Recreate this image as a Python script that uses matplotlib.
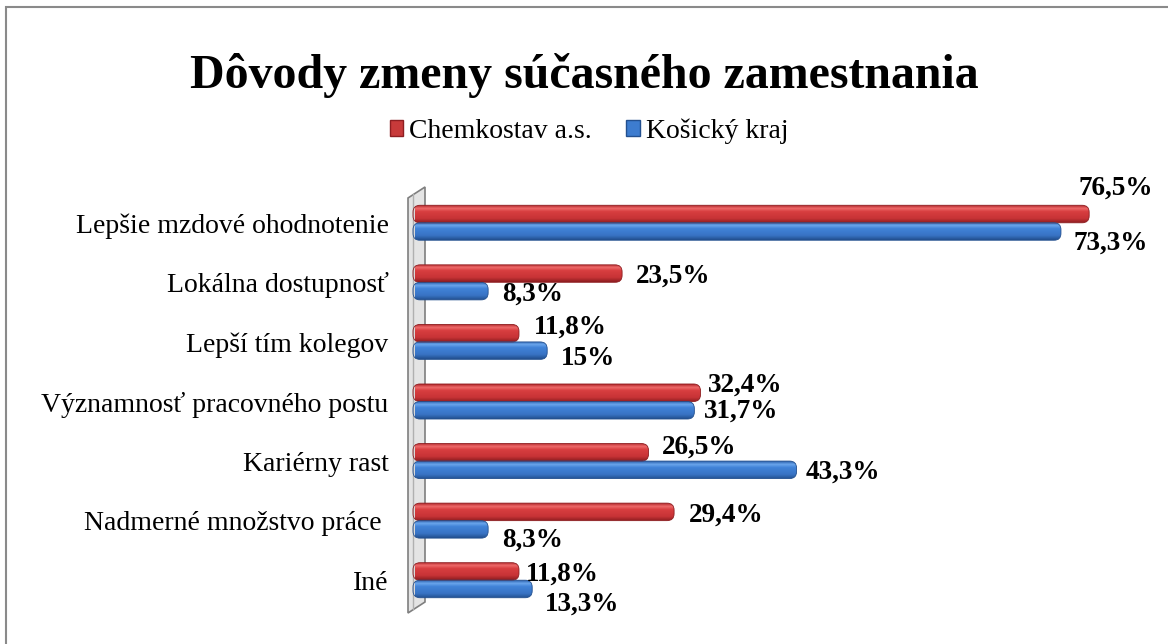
"""
Dôvody zmeny súčasného zamestnania - horizontal bar chart with 3D-ish cylinders
"""

import numpy as np
import matplotlib
matplotlib.use("Agg")
import matplotlib.pyplot as plt
from matplotlib.patches import FancyBboxPatch, Polygon, Rectangle
from matplotlib.transforms import offset_copy

# data
categories = [
    "Lepšie mzdové ohodnotenie",
    "Lokálna dostupnosť",
    "Lepší tím kolegov",
    "Významnosť pracovného postu",
    "Kariérny rast",
    "Nadmerné množstvo práce ",
    "Iné",
]
chemkostav = [76.5, 23.5, 11.8, 32.4, 26.5, 29.4, 11.8]
kosice = [73.3, 8.3, 15.0, 31.7, 43.3, 8.3, 13.3]
chemkostav_labels = ["76,5%", "23,5%", "11,8%", "32,4%", "26,5%", "29,4%", "11,8%"]
kosice_labels = ["73,3%", "8,3%", "15%", "31,7%", "43,3%", "8,3%", "13,3%"]

# label offsets in pixels (dx from bar end to text left, dy from bar centre)
red_offsets = [(-11, 26), (14, -3), (15, 6), (7, 8), (13, 5), (15, -3), (7, -3)]
blue_offsets = [(13, -12), (14, -3), (14, -8), (10, -1), (9, -2), (14, -11), (13, -15)]

SERIF = ["Liberation Serif", "DejaVu Serif"]
plt.rcParams["font.family"] = SERIF

W, H = 1168, 644
fig = plt.figure(figsize=(W / 100, H / 100), dpi=100)

# chart frame (only top/left visible in the reference)
fig.patches.append(
    Rectangle((6 / W, -0.05), 1.1, 1 - 7 / H + 0.05, transform=fig.transFigure,
              fill=False, ec="#8a8a8a", lw=1.5)
)

# 3D side wall, drawn behind the axes
wall = Polygon([(408 / W, 1 - 613 / H), (408 / W, 1 - 198 / H),
                (425 / W, 1 - 187 / H), (425 / W, 1 - 602 / H)],
               closed=True, transform=fig.transFigure, fc="#e4e4e4",
               ec="#7f7f7f", lw=1.2, zorder=-2)
fig.patches.append(wall)
fig.add_artist(plt.Line2D([413 / W, 413 / W], [1 - 609 / H, 1 - 194 / H],
                          transform=fig.transFigure, color="#b0b0b0", lw=1,
                          zorder=-1))

ax_left, ax_right = 415 / W, 1120 / W
ax_top, ax_bottom = 1 - 193 / H, 1 - 610 / H
ax = fig.add_axes([ax_left, ax_bottom, ax_right - ax_left, ax_top - ax_bottom])
ax.patch.set_visible(False)
ax.set_xlim(0, 80)
ax.set_ylim(len(categories) - 0.5, -0.5)
for s in ax.spines.values():
    s.set_visible(False)
ax.set_xticks([])
ax.set_yticks(range(len(categories)))
ax.set_yticklabels(categories, fontsize=20)
ax.tick_params(axis="y", length=0, pad=19)

bar_h = 0.294
y = np.arange(len(categories))
red_bars = ax.barh(y - bar_h / 2, chemkostav, height=bar_h, color="#d13b3d", alpha=0)
blue_bars = ax.barh(y + bar_h / 2, kosice, height=bar_h, color="#3d7ccf", alpha=0)

# px per data unit
px_x = (ax_right - ax_left) * W / 80
px_y = (ax_top - ax_bottom) * H / len(categories)
aspect = px_x / px_y


def cylinder(rect, stops):
    x0, y0 = rect.get_x(), rect.get_y()
    w, h = rect.get_width(), rect.get_height()
    r = 7 / px_x
    x_start = x0 - 2 / px_x
    patch = FancyBboxPatch((x_start, y0), x0 + w - x_start, h,
                           boxstyle=f"round,pad=0,rounding_size={r}",
                           mutation_aspect=aspect, fc="none",
                           ec=stops[-1], lw=0.6, zorder=3, clip_on=False)
    ax.add_patch(patch)
    pos = [0.0, 0.18, 0.35, 0.75, 1.0]
    cols = np.array([matplotlib.colors.to_rgb(c) for c in stops])
    t = np.linspace(0, 1, 40)
    grad = np.stack([np.interp(t, pos, cols[:, k]) for k in range(3)], axis=-1)
    img = ax.imshow(grad[:, None, :], extent=(x_start, x0 + w, y0 + h, y0),
                    aspect="auto", zorder=2, interpolation="bilinear")
    img.set_clip_path(patch)
    img.set_clip_box(None)


red_stops = ["#b3282b", "#ee6a6a", "#d83e40", "#c73336", "#8e1e21"]
blue_stops = ["#2c62ad", "#6aa5ec", "#4183d8", "#3873c4", "#23508f"]
for b in red_bars:
    cylinder(b, red_stops)
for b in blue_bars:
    cylinder(b, blue_stops)
ax.set_xlim(0, 80)
ax.set_ylim(len(categories) - 0.5, -0.5)

# data labels
for bars, labels, offs in [(red_bars, chemkostav_labels, red_offsets),
                           (blue_bars, kosice_labels, blue_offsets)]:
    for b, lab, (dx, dy) in zip(bars, labels, offs):
        tr = offset_copy(ax.transData, fig=fig, x=dx, y=dy, units="dots")
        ax.text(b.get_width(), b.get_y() + b.get_height() / 2, lab, transform=tr,
                ha="left", va="center", fontsize=19.5, fontweight="bold",
                clip_on=False, zorder=5)

# title and legend
fig.text(0.5, 1 - 76 / H, "Dôvody zmeny súčasného zamestnania", ha="center",
         va="center", fontsize=34.5, fontweight="bold")
handles = [Rectangle((0, 0), 1, 1, fc="#c83a3a", ec="#8e1e21"),
           Rectangle((0, 0), 1, 1, fc="#3d7ccf", ec="#23508f")]
fig.legend(handles, ["Chemkostav a.s.", "Košický kraj"], loc="center",
           bbox_to_anchor=(589 / W, 1 - 131 / H), ncol=2, frameon=False,
           fontsize=20, handlelength=0.5, handleheight=0.5, handletextpad=0.2,
           columnspacing=1.25, borderpad=0.2)

fig.savefig("out.png", dpi=100)
